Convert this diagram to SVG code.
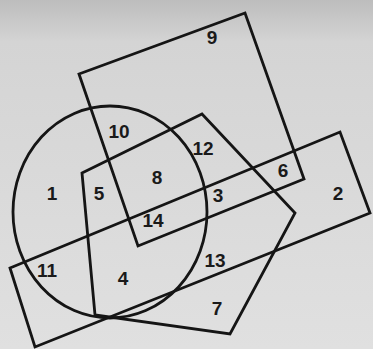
<svg xmlns="http://www.w3.org/2000/svg" width="373" height="349" viewBox="0 0 373 349">
<defs>
<linearGradient id="bg" x1="0" y1="0" x2="0" y2="1">
<stop offset="0" stop-color="#bdbdbd"/>
<stop offset="0.12" stop-color="#d4d4d4"/>
<stop offset="1" stop-color="#e0e0e0"/>
</linearGradient>
<style>
.s{fill:none;stroke:#151515;stroke-width:2.8;stroke-linejoin:miter}
.t{font-family:"Liberation Sans",Arial,sans-serif;font-size:19px;font-weight:bold;fill:#1a1a1a;text-anchor:middle}
</style>
</defs>
<rect width="373" height="349" fill="url(#bg)"/>
<g id="shapes">
<polygon id="square" class="s" points="79,74 245,13 304,179 138,246"/>
<ellipse id="circle" class="s" cx="110" cy="212" rx="97" ry="106"/>
<polygon id="pentagon" class="s" points="82,173 202,114 295,213 230,334 95,315"/>
<polygon id="rectangle" class="s" points="10,268 340,132 370,213 35,347"/>
</g>
<g id="labels">
<text class="t" x="212" y="44">9</text>
<text class="t" x="119" y="138">10</text>
<text class="t" x="203" y="155">12</text>
<text class="t" x="157" y="184">8</text>
<text class="t" x="283" y="177">6</text>
<text class="t" x="52" y="200">1</text>
<text class="t" x="99" y="200">5</text>
<text class="t" x="218" y="202">3</text>
<text class="t" x="338" y="200">2</text>
<text class="t" x="153" y="227">14</text>
<text class="t" x="47" y="277">11</text>
<text class="t" x="123" y="285">4</text>
<text class="t" x="215" y="267">13</text>
<text class="t" x="217" y="315">7</text>
</g>
</svg>
